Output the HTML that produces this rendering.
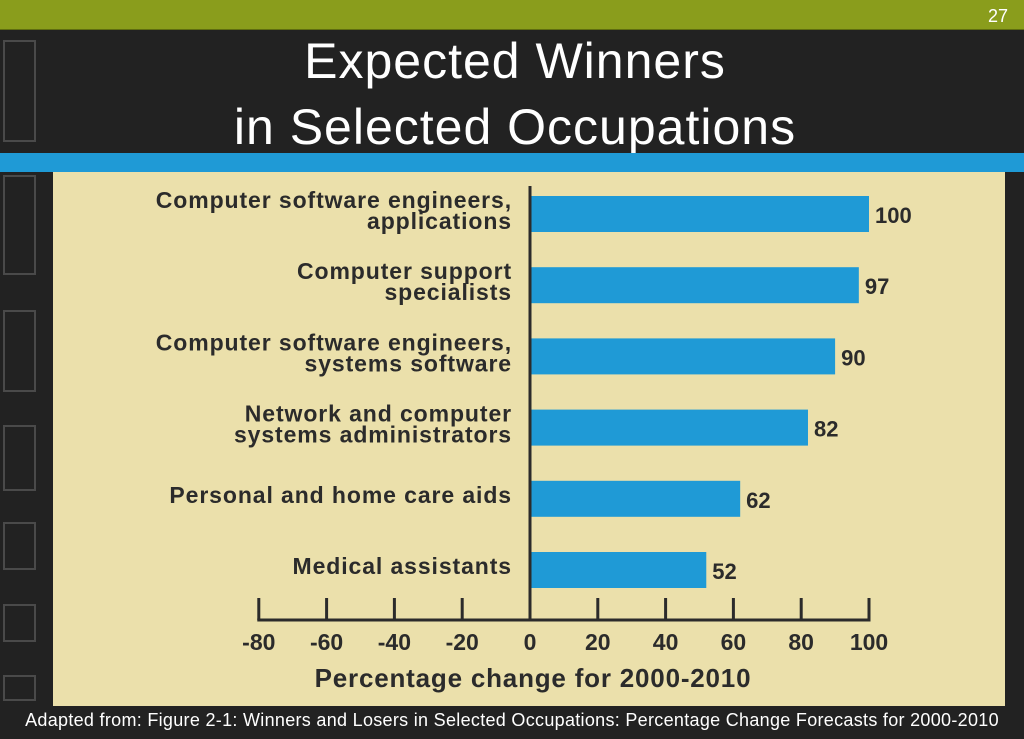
<!DOCTYPE html>
<html><head><meta charset="utf-8"><style>
body{margin:0;width:1024px;height:739px;background:#222;overflow:hidden;font-family:"Liberation Sans",sans-serif;position:relative}
.a{position:absolute}
.sq{position:absolute;left:3px;width:33px;border:2px solid #4a4a4a;box-sizing:border-box}
</style></head><body>
<div class="a" style="left:0;top:0;width:1024px;height:29px;background:#8a9d1c;border-bottom:1px solid #5f6d10"></div>
<div class="a" style="right:16px;top:6px;color:#fff;font-size:18px">27</div>
<div class="a" style="left:0;width:1030px;top:28px;text-align:center;color:#fff;font-size:50px;line-height:66px;letter-spacing:1px">Expected Winners<br>in Selected Occupations</div>
<div class="a" style="left:0;top:153px;width:1024px;height:19px;background:#1f9ad6"></div>
<div class="sq" style="top:40px;height:102px"></div>
<div class="sq" style="top:175px;height:100px"></div>
<div class="sq" style="top:310px;height:82px"></div>
<div class="sq" style="top:425px;height:66px"></div>
<div class="sq" style="top:522px;height:48px"></div>
<div class="sq" style="top:604px;height:38px"></div>
<div class="sq" style="top:675px;height:26px"></div>
<div class="a" style="left:53px;top:172px;width:952px;height:534px;background:#ebe0ab"></div>
<svg class="a" style="left:0;top:0" width="1024" height="739" id="c"></svg>
<div class="a" style="left:0;width:1024px;top:710px;text-align:center;color:#fff;font-size:18px;letter-spacing:0.3px">Adapted from: Figure 2-1: Winners and Losers in Selected Occupations: Percentage Change Forecasts for 2000-2010</div>
<script>
const categories=[["Computer software engineers,","applications"],["Computer support","specialists"],["Computer software engineers,","systems software"],["Network and computer","systems administrators"],["Personal and home care aids"],["Medical assistants"]];
const values=[100,97,90,82,62,52];
const ticks=[-80,-60,-40,-20,0,20,40,60,80,100];
const NS="http://www.w3.org/2000/svg",svg=document.getElementById('c');
const x=v=>530+v*3.39, y=i=>214+i*71.2;
function mk(t,a,txt){const e=document.createElementNS(NS,t);for(const k in a)e.setAttribute(k,a[k]);if(txt!=null)e.textContent=txt;svg.appendChild(e);return e;}
categories.forEach((c,i)=>{
 const b=mk('rect',{x:x(0),y:y(i)-18,width:x(values[i])-x(0),height:36,fill:'#1f9ad6'});
 
 
 const v=mk('text',{x:x(values[i])+6,y:y(i)+9,'font-size':22,'font-weight':'bold',fill:'#2b2b2b'},values[i]);
 
 
 c.forEach((ln,j)=>{
  const yy=c.length==1?y(i)+4:y(i)-6+j*21;
  const t=mk('text',{x:512,y:yy,'font-size':23,'font-weight':'bold',fill:'#2b2b2b','text-anchor':'end','letter-spacing':'0.9'},ln);
  
  
 });
});
const zl=mk('line',{x1:x(0),x2:x(0),y1:186,y2:620,stroke:'#2b2b2b','stroke-width':3});


const ax=mk('line',{x1:x(-80)-1.5,x2:x(100)+1.5,y1:620,y2:620,stroke:'#2b2b2b','stroke-width':3});


ticks.forEach(t=>{
 const l=mk('line',{x1:x(t),x2:x(t),y1:598,y2:620,stroke:'#2b2b2b','stroke-width':3});
 
 
 const tx=mk('text',{x:x(t),y:650,'font-size':23,'font-weight':'bold',fill:'#2b2b2b','text-anchor':'middle'},t);
 
 
});
const at=mk('text',{x:533,y:687,'font-size':26,'font-weight':'bold',fill:'#2b2b2b','text-anchor':'middle','letter-spacing':'0.8'},'Percentage change for 2000-2010');


</script>
</body></html>
